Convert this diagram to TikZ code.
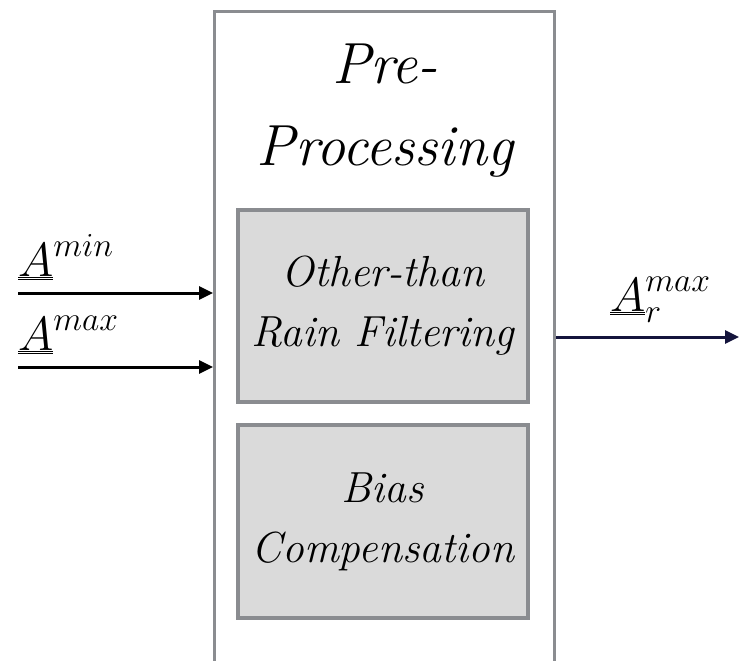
\RequirePackage{fix-cm}
\documentclass[tikz,border=0pt]{standalone}
\usetikzlibrary{arrows.meta}
\definecolor{boxline}{HTML}{8A8C90}
\definecolor{boxfill}{HTML}{DADADA}
\definecolor{outline}{HTML}{14143C}
\newcommand{\uu}[1]{\underline{\underline{#1}}}
\begin{document}
\begin{tikzpicture}[x=1pt,y=-1pt,
  outerbox/.style={draw=boxline, line width=3pt, fill=white, inner sep=0pt},
  stagebox/.style={draw=boxline, line width=3.5pt, fill=boxfill, inner sep=0pt,
    minimum width=290pt, align=center,
    font=\fontsize{43.5}{60}\selectfont\itshape},
  titletext/.style={align=center, inner sep=0pt,
    font=\fontsize{58}{82}\selectfont\itshape},
  sig/.style={inner sep=0pt, font=\fontsize{48}{54}\selectfont},
  arr/.style={line width=3pt, -{Triangle[length=14pt,width=13pt]}}]
\useasboundingbox (0,0) rectangle (739,661);

% outer pre-processing block (runs past the lower edge)
\node[outerbox, anchor=north west, minimum width=340pt, minimum height=700pt]
  (pre) at (213,10) {};
\node[titletext, anchor=base] (title) at (385,165) {Pre-\\Processing};

% inner stages
\node[stagebox, minimum height=192pt] (filt) at (383,306)
  {Other-than\\Rain Filtering};
\node[stagebox, minimum height=193pt] (bias) at (383,521.5)
  {Bias\\Compensation};

% inputs
\coordinate (inmin) at (18,293);
\coordinate (inmax) at (18,367);
\draw[arr] (inmin) -- (inmin -| pre.west);
\draw[arr] (inmax) -- (inmax -| pre.west);
\node[sig, anchor=base west] (lmin) at (18,276) {$\uu{A}^{min}$};
\node[sig, anchor=base west] (lmax) at (18,350) {$\uu{A}^{max}$};

% output
\coordinate (out) at (739,337);
\draw[arr, draw=outline, fill=outline] (pre.east |- out) -- (out);
\node[sig, anchor=base west] (lout) at (610,311) {$\uu{A}_r^{max}$};
\end{tikzpicture}
\end{document}
